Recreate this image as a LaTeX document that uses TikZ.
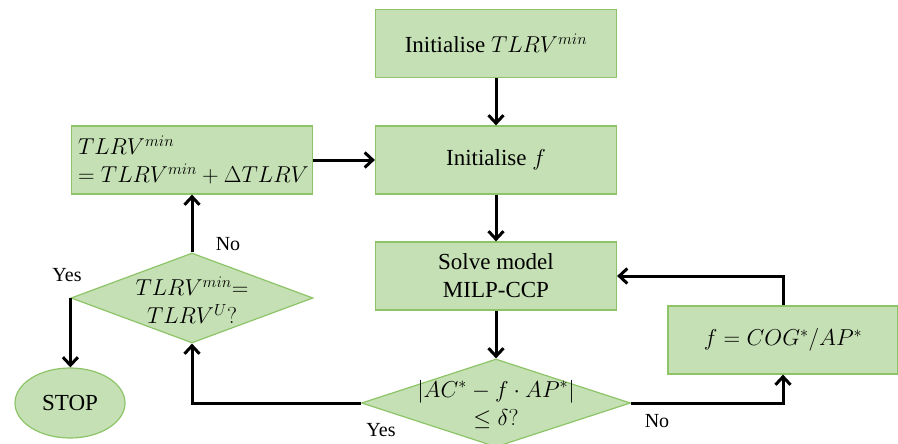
\documentclass[tikz,border=0pt]{standalone}
\usepackage{fix-cm}
\usepackage{fontspec}
\setmainfont{Liberation Serif}
\usetikzlibrary{shapes.geometric,arrows.meta}
\definecolor{gfill}{HTML}{C5E0B4}
\definecolor{gdraw}{HTML}{8DC467}
\begin{document}
\begin{tikzpicture}[x=1pt,y=-1pt, font=\fontsize{23}{28}\selectfont,
 box/.style={draw=gdraw, fill=gfill, line width=1.2pt, minimum width=241pt, minimum height=68pt, inner sep=0pt, align=center},
 dia/.style={diamond, draw=gdraw, fill=gfill, line width=1.2pt, inner sep=0pt},
 conn/.style={line width=3pt, -{Straight Barb[length=8pt,width=15pt]}},
 lbl/.style={font=\fontsize{20}{22}\selectfont, inner sep=0pt}]
\useasboundingbox (0,0) rectangle (898,444);
\node[box] (b1) at (496,43.5) {Initialise $TLRV^{min}$};
\node[box] (b2) at (496,160) {Initialise $f$};
\node[box] (b3) at (496,276) {Solve model\\MILP-CCP};
\node[dia, minimum width=269pt, minimum height=88pt] (d4) at (496,403) {};
\node (d4t) at (496,404) [align=center, inner sep=0pt] {$|AC^{*}-f\cdot AP^{*}|$\\$\leq\delta?$};
\node[box, align=left, text width=228pt] (b5) at (192,160) {$TLRV^{min}$\\\mbox{$=TLRV^{min}+\Delta TLRV$}};
\node[dia, minimum width=242pt, minimum height=90pt] (d6) at (192,298) {};
\node (d6t) at (192,300) [align=center, inner sep=0pt] {$TLRV^{min}{=}$\\$TLRV^{U}?$};
\node[ellipse, draw=gdraw, fill=gfill, line width=1.2pt, minimum width=110pt, minimum height=70pt, inner sep=0pt] (stop) at (70,403) {STOP};
\node[box, minimum width=230pt] (b7) at (783,340) {$f=COG^{*}/AP^{*}$};
\draw[conn] (b1) -- (b2);
\draw[conn] (b2) -- (b3);
\draw[conn] (b3.south) -- (d4.north);
\draw[conn] (b5) -- (b2);
\draw[conn] (d6.north) -- (b5.south);
\draw[conn] (d6.west) -- (d6.west |- stop.north);
\draw[conn] (d4.west) -| (d6.south);
\draw[conn] (d4.east) -| (b7.south);
\draw[conn] (b7.north) |- (b3.east);
\node[lbl] (l1) at (228,244) {No};
\node[lbl] (l2) at (67,275) {Yes};
\node[lbl] (l3) at (381,430) {Yes};
\node[lbl] (l4) at (657,421) {No};
\end{tikzpicture}
\end{document}
